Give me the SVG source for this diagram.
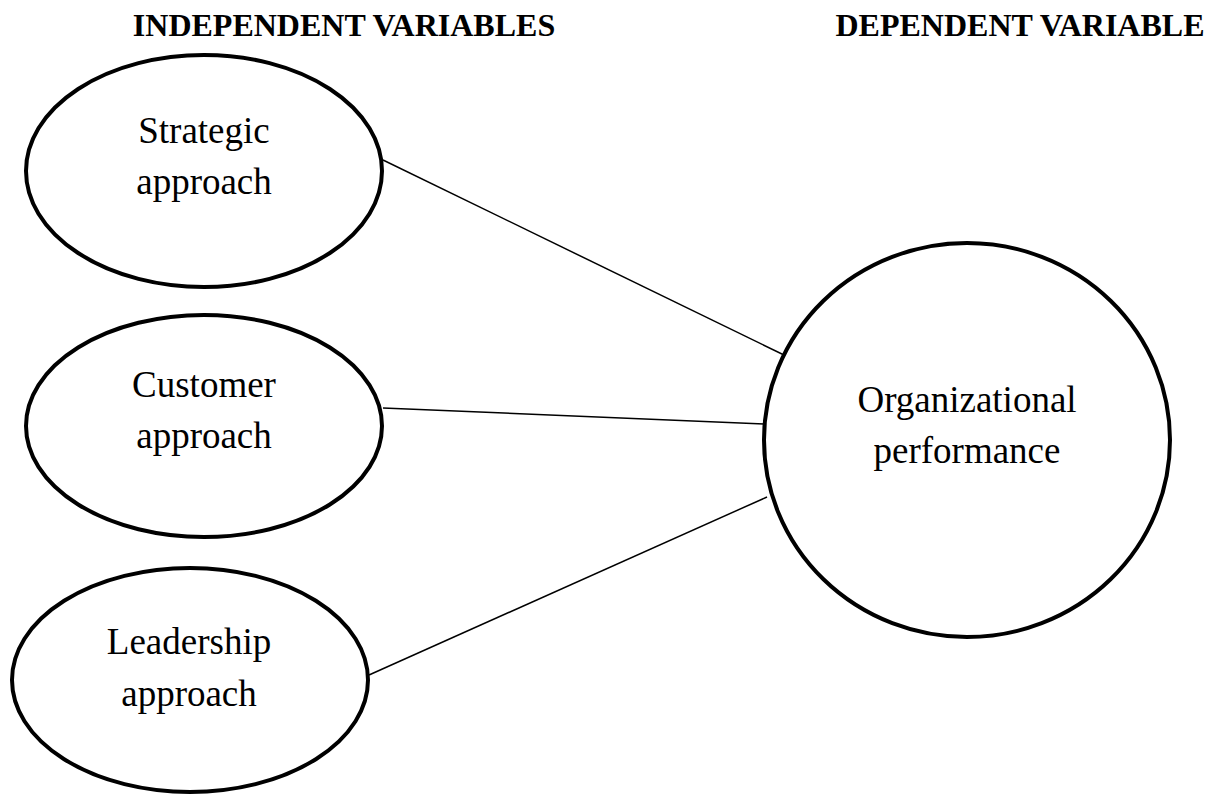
<svg xmlns="http://www.w3.org/2000/svg" width="1207" height="794" viewBox="0 0 1207 794">
<style>
.node ellipse{fill:#fff;stroke:#000;stroke-width:4}
.lbl{font-family:"Liberation Serif","Times New Roman",serif;font-size:37px;text-anchor:middle;fill:#000}
.hdr{font-family:"Liberation Serif","Times New Roman",serif;font-size:32px;font-weight:bold;text-anchor:middle;fill:#000}
#connectors line{stroke:#000;stroke-width:1.5}
</style>
<rect width="1207" height="794" fill="#fff"/>
<text class="hdr" x="344" y="36">INDEPENDENT VARIABLES</text>
<text class="hdr" x="1020" y="36">DEPENDENT VARIABLE</text>
<g id="connectors">
<line x1="383" y1="160" x2="784" y2="355"/>
<line x1="383" y1="408" x2="764" y2="424"/>
<line x1="369" y1="675" x2="767" y2="497"/>
</g>
<g id="strategic" class="node">
<ellipse cx="204" cy="171" rx="178" ry="116"/>
<text class="lbl" x="204" y="143">Strategic</text>
<text class="lbl" x="204" y="194">approach</text>
</g>
<g id="customer" class="node">
<ellipse cx="204" cy="426" rx="178" ry="111"/>
<text class="lbl" x="204" y="397">Customer</text>
<text class="lbl" x="204" y="448">approach</text>
</g>
<g id="leadership" class="node">
<ellipse cx="190" cy="680" rx="178" ry="112"/>
<text class="lbl" x="189" y="654">Leadership</text>
<text class="lbl" x="189" y="706">approach</text>
</g>
<g id="organizational" class="node">
<ellipse cx="967" cy="440" rx="203" ry="197"/>
<text class="lbl" x="967" y="412">Organizational</text>
<text class="lbl" x="967" y="463">performance</text>
</g>
</svg>
